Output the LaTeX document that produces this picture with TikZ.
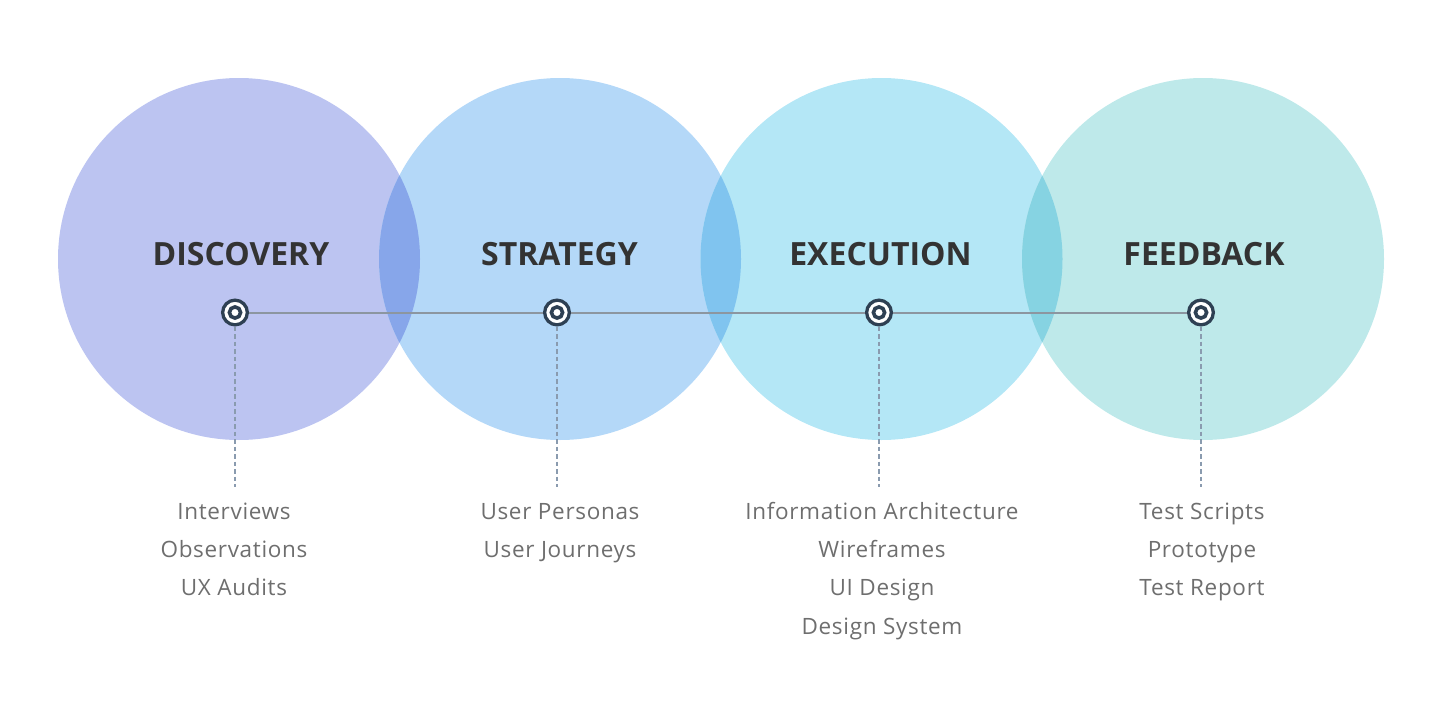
\documentclass[tikz,border=0pt]{standalone}
\usepackage{fontspec}
\setmainfont{Open Sans}[BoldFont={Open Sans Bold}]
\newfontfamily\itemfont{Open Sans}[LetterSpace=3.0]
\definecolor{cA}{HTML}{BCC4F1}
\definecolor{cB}{HTML}{B4D8F8}
\definecolor{cC}{HTML}{B4E7F6}
\definecolor{cD}{HTML}{BEE9EA}
\definecolor{oAB}{HTML}{87A6EA}
\definecolor{oBC}{HTML}{80C4EF}
\definecolor{oCD}{HTML}{86D3E2}
\definecolor{ink}{HTML}{333333}
\definecolor{mk}{HTML}{2E4053}
\definecolor{ln}{HTML}{8C96A0}
\definecolor{dl}{HTML}{8A9BAF}
\definecolor{tx}{HTML}{6E6E6E}
\begin{document}
\begin{tikzpicture}[x=1pt,y=-1pt,
  marker/.style={circle, draw=mk, line width=3.3pt, fill=white, minimum size=24.7pt, inner sep=0pt,
    path picture={\draw[mk, line width=3.6pt] (path picture bounding box.center) circle (5.6pt);}},
  hline/.style={draw=ln, line width=2pt},
  dline/.style={draw=dl, line width=2pt, dash pattern=on 4.5pt off 3pt},
  head/.style={anchor=base, inner sep=0pt, text=ink, font=\fontsize{32}{36}\selectfont\bfseries},
  item/.style={anchor=base, inner sep=0pt, text=tx, font=\itemfont\fontsize{22.5}{26}\selectfont}
]
\useasboundingbox (0,0) rectangle (1440,704);
% circles
\fill[cA] (239,259) circle (181pt);
\fill[cB] (560,259) circle (181pt);
\fill[cC] (881.5,259) circle (181pt);
\fill[cD] (1203,259) circle (181pt);
% overlaps
\begin{scope}
  \clip (239,259) circle (181pt);
  \fill[oAB] (560,259) circle (181pt);
\end{scope}
\begin{scope}
  \clip (560,259) circle (181pt);
  \fill[oBC] (881.5,259) circle (181pt);
\end{scope}
\begin{scope}
  \clip (881.5,259) circle (181pt);
  \fill[oCD] (1203,259) circle (181pt);
\end{scope}
% headings
\node[head] (h1) at (241,265) {DISCOVERY};
\node[head] (h2) at (559.5,265) {STRATEGY};
\node[head] (h3) at (880.5,265) {EXECUTION};
\node[head] (h4) at (1204,265) {FEEDBACK};
% markers
\node[marker] (m1) at (235,312.5) {};
\node[marker] (m2) at (557,312.5) {};
\node[marker] (m3) at (879,312.5) {};
\node[marker] (m4) at (1201,312.5) {};
\draw[hline] (m1) -- (m2);
\draw[hline] (m2) -- (m3);
\draw[hline] (m3) -- (m4);
% dashed drops
\coordinate (e1) at (235,487);
\coordinate (e2) at (557,487);
\coordinate (e3) at (879,487);
\coordinate (e4) at (1201,487);
\draw[dline] (m1) -- (e1);
\draw[dline] (m2) -- (e2);
\draw[dline] (m3) -- (e3);
\draw[dline] (m4) -- (e4);
% items
\node[item] (a1) at (234,519) {Interviews};
\node[item] (a2) at (234,557.3) {Observations};
\node[item] (a3) at (234,595.6) {UX Audits};
\node[item] (b1) at (560,519) {User Personas};
\node[item] (b2) at (560,557.3) {User Journeys};
\node[item] (c1) at (882,519) {Information Architecture};
\node[item] (c2) at (882,557.3) {Wireframes};
\node[item] (c3) at (882,595.6) {UI Design};
\node[item] (c4) at (882,634) {Design System};
\node[item] (d1) at (1202,519) {Test Scripts};
\node[item] (d2) at (1202,557.3) {Prototype};
\node[item] (d3) at (1202,595.6) {Test Report};
\end{tikzpicture}
\end{document}
